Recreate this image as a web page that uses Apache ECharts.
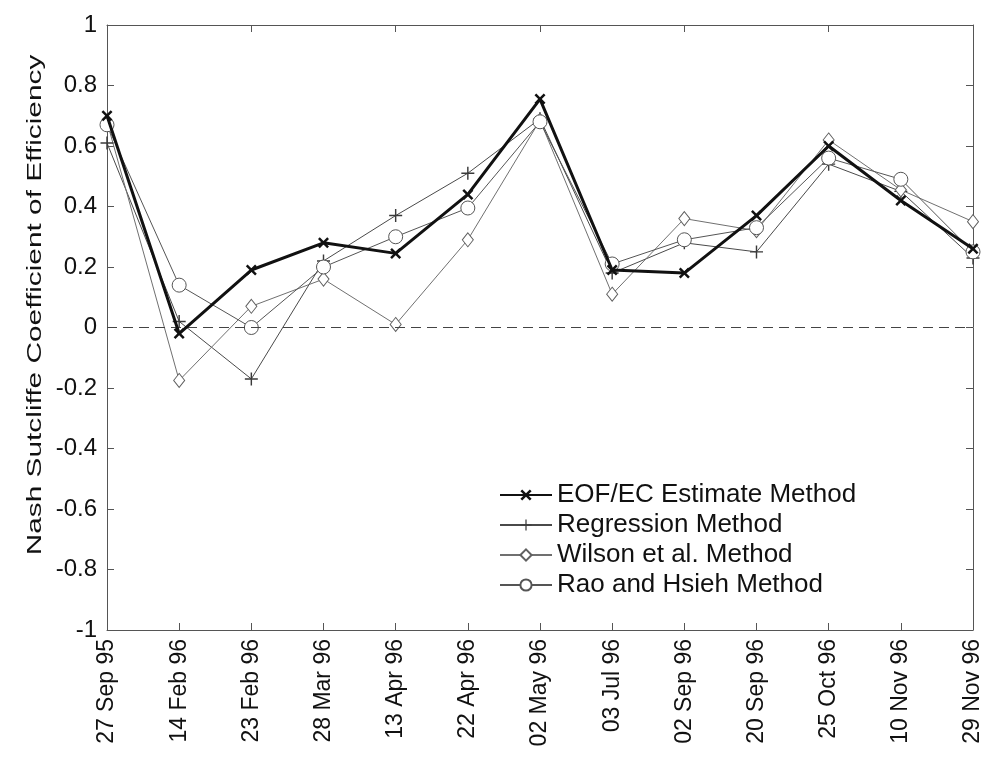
<!DOCTYPE html>
<html>
<head>
<meta charset="utf-8">
<script src="https://cdn.jsdelivr.net/npm/echarts@6/dist/echarts.min.js"></script>
<style>html,body{margin:0;padding:0;background:#fff}#c{width:989px;height:770px}</style>
</head>
<body>
<div id="c"></div>
<script>
var categories = ['27 Sep 95','14 Feb 96','23 Feb 96','28 Mar 96','13 Apr 96','22 Apr 96','02 May 96','03 Jul 96','02 Sep 96','20 Sep 96','25 Oct 96','10 Nov 96','29 Nov 96'];
var eofEC      = [0.70, -0.02, 0.19, 0.28, 0.245, 0.44, 0.755, 0.19, 0.18, 0.37, 0.60, 0.42, 0.26];
var regression = [0.61, 0.02, -0.17, 0.22, 0.37, 0.51, 0.69, 0.18, 0.28, 0.25, 0.54, 0.45, 0.23];
var wilson     = [0.68, -0.175, 0.07, 0.16, 0.01, 0.29, 0.685, 0.11, 0.36, 0.32, 0.62, 0.455, 0.35];
var rao        = [0.67, 0.14, 0.0, 0.20, 0.30, 0.395, 0.68, 0.21, 0.29, 0.33, 0.56, 0.49, 0.25];
var yTicks = {min: -1, max: 1, interval: 0.2};
var yTitle = 'Nash Sutcliffe Coefficient of Efficiency';

var FONT = 'Liberation Sans, Arial, sans-serif';
var xSym = 'path://M0,1.6L1.6,0L5,3.4L8.4,0L10,1.6L6.6,5L10,8.4L8.4,10L5,6.6L1.6,10L0,8.4L3.4,5Z';
var plusSym = 'path://M4.45,0H5.55V4.45H10V5.55H5.55V10H4.45V5.55H0V4.45H4.45Z';

var chart = echarts.init(document.getElementById('c'), null, {renderer: 'canvas'});
var axisColor = '#555';
chart.setOption({
  animation: false,
  backgroundColor: '#fff',
  grid: {left: 107, right: 16, top: 25, bottom: 140, containLabel: false},
  graphic: [{
    type: 'text', x: 35, y: 305, rotation: Math.PI / 2, scaleX: 1.42,
    style: {text: yTitle, font: '21px Liberation Sans, Arial, sans-serif', fill: '#111',
      textAlign: 'center', textVerticalAlign: 'middle'}
  }],
  legend: {
    orient: 'vertical',
    left: 494, top: 477,
    itemWidth: 52, itemHeight: 14, itemGap: 4,
    textStyle: {fontFamily: FONT, fontSize: 26, color: '#111'},
    data: ['EOF/EC Estimate Method','Regression Method','Wilson et al. Method','Rao and Hsieh Method']
  },
  xAxis: [{
    type: 'category', data: categories, boundaryGap: false, position: 'bottom',
    axisLine: {onZero: false, lineStyle: {color: axisColor, width: 1}},
    axisTick: {inside: true, length: 7, lineStyle: {color: axisColor}},
    axisLabel: {rotate: 90, fontFamily: FONT, fontSize: 23, color: '#111', margin: 9, interval: 0}
  }, {
    type: 'category', data: categories, boundaryGap: false, position: 'top',
    axisLine: {onZero: false, lineStyle: {color: axisColor, width: 1}},
    axisTick: {inside: true, length: 7, lineStyle: {color: axisColor}},
    axisLabel: {show: false}
  }],
  yAxis: [{
    type: 'value', min: yTicks.min, max: yTicks.max, interval: yTicks.interval, position: 'left',
    axisLine: {show: true, onZero: false, lineStyle: {color: axisColor, width: 1}},
    axisTick: {show: true, inside: true, length: 7, lineStyle: {color: axisColor}},
    axisLabel: {fontFamily: FONT, fontSize: 24, color: '#111', margin: 10,
      formatter: function(v){ return String(Math.round(v*10)/10); }},
    splitLine: {show: false}
  }, {
    type: 'value', min: yTicks.min, max: yTicks.max, interval: yTicks.interval, position: 'right',
    axisLine: {show: true, onZero: false, lineStyle: {color: axisColor, width: 1}},
    axisTick: {show: true, inside: true, length: 7, lineStyle: {color: axisColor}},
    axisLabel: {show: false}, splitLine: {show: false}
  }],
  series: [
    {
      name: 'Regression Method', type: 'line', data: regression, z: 3,
      symbol: plusSym, symbolSize: 13, showAllSymbol: true,
      lineStyle: {color: '#4a4a4a', width: 1},
      itemStyle: {color: '#3a3a3a'},
      markLine: {silent: true, symbol: 'none', label: {show: false},
        lineStyle: {color: '#444', type: [10, 6], width: 1.2},
        data: [{yAxis: 0, lineStyle: {color: '#444', type: [10, 6], width: 1.2}}]}
    },
    {
      name: 'Wilson et al. Method', type: 'line', data: wilson, z: 3,
      symbol: 'diamond', symbolSize: [11, 14], showAllSymbol: true,
      lineStyle: {color: '#707070', width: 1},
      itemStyle: {color: '#fff', borderColor: '#606060', borderWidth: 1}
    },
    {
      name: 'Rao and Hsieh Method', type: 'line', data: rao, z: 3,
      symbol: 'circle', symbolSize: 14, showAllSymbol: true,
      lineStyle: {color: '#555', width: 1},
      itemStyle: {color: '#fff', borderColor: '#555', borderWidth: 1}
    },
    {
      name: 'EOF/EC Estimate Method', type: 'line', data: eofEC, z: 5,
      symbol: xSym, symbolSize: 11, showAllSymbol: true,
      lineStyle: {color: '#111', width: 3},
      itemStyle: {color: '#111'}
    }
  ]
});
</script>
</body>
</html>
